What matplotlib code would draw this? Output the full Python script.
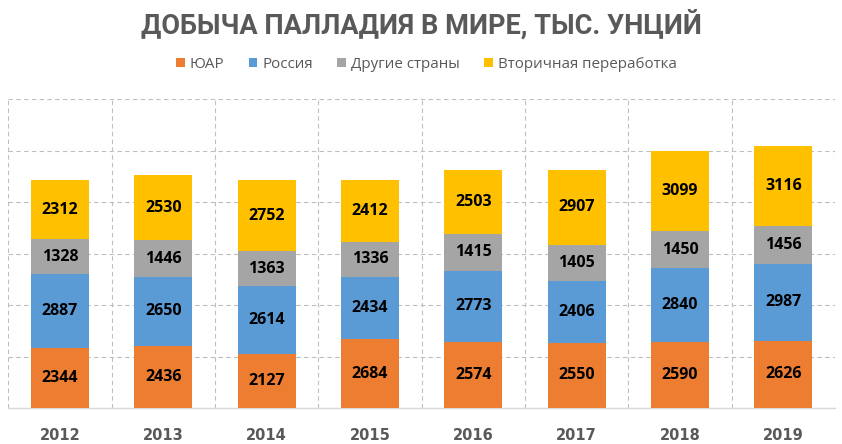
import matplotlib
matplotlib.use("Agg")
import matplotlib.pyplot as plt
import numpy as np
from matplotlib.patches import Patch

years = ["2012", "2013", "2014", "2015", "2016", "2017", "2018", "2019"]
series_names = ["ЮАР", "Россия", "Другие страны", "Вторичная переработка"]
yuar = [2344, 2436, 2127, 2684, 2574, 2550, 2590, 2626]
russia = [2887, 2650, 2614, 2434, 2773, 2406, 2840, 2987]
other = [1328, 1446, 1363, 1336, 1415, 1405, 1450, 1456]
recycling = [2312, 2530, 2752, 2412, 2503, 2907, 3099, 3116]
colors = ["#ED7D31", "#5B9BD5", "#A5A5A5", "#FFC000"]

plt.rcParams['font.family'] = ['Open Sans', 'DejaVu Sans']

fig = plt.figure(figsize=(8.42, 4.44), dpi=100)
ax = fig.add_axes([8.3/842, 1-408.3/444, (835-8.3)/842, (408.3-99.3)/444])

x = np.arange(len(years))
bottom = np.zeros(len(years))
for vals, c, name in zip([yuar, russia, other, recycling], colors, series_names):
    vals = np.array(vals)
    ax.bar(x, vals, 0.56, bottom=bottom, color=c, label=name, zorder=3)
    for xi, b, v in zip(x, bottom, vals):
        ax.text(xi, b + v/2, str(v), ha='center', va='center', fontsize=11.5,
                fontweight='bold', color='black', zorder=4)
    bottom += vals

ax.set_xlim(-0.5, len(years)-0.5)
ax.set_ylim(0, 12000)
ax.set_yticks(np.arange(0, 12001, 2000))
ax.set_yticklabels([])
ax.tick_params(axis='y', length=0)
ax.set_xticks(x)
ax.set_xticklabels(years, fontsize=10.5, fontweight='bold', color='#595959',
                   family='DejaVu Sans')
ax.tick_params(axis='x', length=0, pad=14)
ax.set_xticks(np.arange(-0.5, len(years), 1.0), minor=True)
ax.tick_params(axis='x', which='minor', length=0)
ax.grid(axis='y', which='major', color='#BFBFBF', linestyle=(0, (4, 3)), linewidth=0.8, zorder=0)
ax.grid(axis='x', which='minor', color='#BFBFBF', linestyle=(0, (4, 3)), linewidth=0.8, zorder=0)
ax.grid(axis='x', which='major', visible=False)
for s in ['left', 'right', 'top']:
    ax.spines[s].set_visible(False)
ax.spines['bottom'].set_color('#D9D9D9')
ax.spines['bottom'].set_linewidth(1)

fig.text(0.5, 1-33.5/444, "ДОБЫЧА ПАЛЛАДИЯ В МИРЕ, ТЫС. УНЦИЙ", ha='center', va='baseline',
         fontsize=19.5, fontweight='bold', color='#595959', family=['Roboto', 'DejaVu Sans'])

handles = [Patch(facecolor=c, edgecolor='none') for c in colors]
fig.legend(handles, series_names, loc='center', bbox_to_anchor=(426.5/842, 1-64.5/444), ncol=4,
           frameon=False, fontsize=10.9, handlelength=0.57, handleheight=0.6,
           handletextpad=0.34, columnspacing=1.6, labelcolor='#595959')

fig.savefig("out.png", dpi=100)
